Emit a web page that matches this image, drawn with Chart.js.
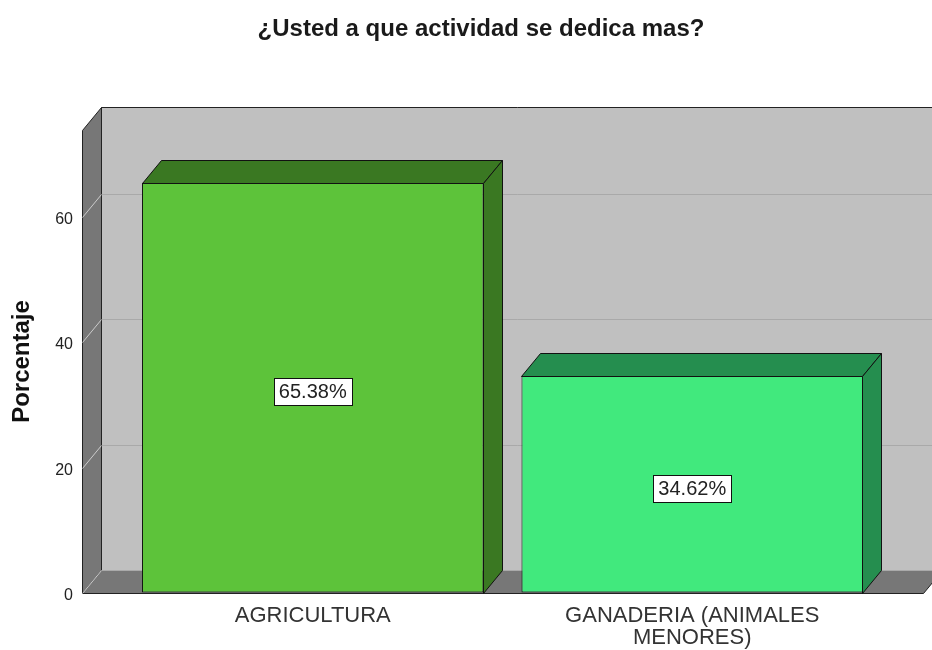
<!DOCTYPE html>
<html lang="es">
<head>
<meta charset="utf-8">
<title>¿Usted a que actividad se dedica mas?</title>
<script src="https://cdn.jsdelivr.net/npm/chart.js@4.4.1/dist/chart.umd.min.js"></script>
<style>
  html, body { margin: 0; padding: 0; background: #fff; }
  #wrap { width: 932px; height: 650px; position: relative; }
</style>
</head>
<body>
<div id="wrap"><canvas id="chart"></canvas></div>
<script>
// ---- data ----
const TITLE = '¿Usted a que actividad se dedica mas?';
const Y_TITLE = 'Porcentaje';
const CATEGORIES = ['AGRICULTURA', ['GANADERIA (ANIMALES', 'MENORES)']];
const PERCENTS = [65.38, 34.62];
const Y_TICKS = [0, 20, 40, 60];
const Y_MAX = 73.8;

// ---- look ----
const FRONT_COLORS = ['#5dc33a', '#41e97d'];
const SIDE_COLORS = ['#3a7822', '#258e4f'];
const FONT = '"Liberation Sans", Arial, sans-serif';
const DEPTH = { dx: 19, dy: -23 };   // 3d offset of the back plane
const WALL_PAD = 41;                 // floor/wall overhang past the category band

function line(ctx, x1, y1, x2, y2) {
  ctx.beginPath(); ctx.moveTo(x1, y1); ctx.lineTo(x2, y2); ctx.stroke();
}
function poly(ctx, pts, fill, stroke) {
  ctx.beginPath();
  pts.forEach((p, i) => i ? ctx.lineTo(p[0], p[1]) : ctx.moveTo(p[0], p[1]));
  ctx.closePath();
  if (fill) { ctx.fillStyle = fill; ctx.fill(); }
  if (stroke) { ctx.strokeStyle = stroke; ctx.stroke(); }
}

const box3d = {
  id: 'box3d',
  beforeDatasetsDraw(chart) {
    const { ctx, chartArea: a, scales: { y } } = chart;
    const { dx, dy } = DEPTH;
    const xL = Math.round(a.left - WALL_PAD) + 0.5, xR = Math.round(a.right + WALL_PAD) + 0.5;
    const yT = Math.round(a.top) + 0.5, yB = Math.round(a.bottom) + 0.5;
    ctx.save();
    ctx.lineWidth = 1;

    // back wall
    ctx.fillStyle = '#c0c0c0';
    ctx.fillRect(xL + dx, yT + dy, xR - xL + 10, yB - yT);
    ctx.strokeStyle = '#a9a9a9';
    Y_TICKS.filter(v => v > 0).forEach(v => {
      const py = Math.round(y.getPixelForValue(v) + dy) + 0.5;
      line(ctx, xL + dx, py, xR + dx + 10, py);
    });
    ctx.strokeStyle = '#222';
    line(ctx, xL + dx, yT + dy, xR + dx + 10, yT + dy);

    // left wall
    poly(ctx, [[xL, yB], [xL, yT], [xL + dx, yT + dy], [xL + dx, yB + dy]], '#777777', '#222');

    // floor
    poly(ctx, [[xL, yB], [xR, yB], [xR + dx, yB + dy], [xL + dx, yB + dy]], '#777777', null);
    ctx.strokeStyle = '#aaaaaa';
    line(ctx, xL + dx, yB + dy, xR + dx + 10, yB + dy);
    ctx.strokeStyle = '#222';
    line(ctx, xL, yB, xR, yB);
    line(ctx, xR, yB, xR + dx, yB + dy);
    line(ctx, xL + dx, yT + dy, xL + dx, yB + dy);

    // tick diagonals on the left wall
    ctx.strokeStyle = '#cccccc';
    Y_TICKS.forEach(v => {
      const py = Math.round(y.getPixelForValue(v)) + 0.5;
      line(ctx, xL, py, xL + dx, py + dy);
    });
    ctx.restore();
  },
  afterDatasetsDraw(chart) {
    const { ctx } = chart;
    const { dx, dy } = DEPTH;
    const meta = chart.getDatasetMeta(0);
    ctx.save();
    ctx.lineWidth = 1;
    meta.data.forEach((bar, i) => {
      const { x, y, base, width } = bar.getProps(['x', 'y', 'base', 'width'], true);
      const l = Math.round(x - width / 2) + 0.5, r = Math.round(x + width / 2) - 0.5;
      const t = Math.round(y) + 0.5, b = Math.round(base) + 0.5;
      poly(ctx, [[l, t], [r, t], [r + dx, t + dy], [l + dx, t + dy]], SIDE_COLORS[i], '#111');
      poly(ctx, [[r, t], [r + dx, t + dy], [r + dx, b + dy], [r, b]], SIDE_COLORS[i], '#111');

      // value label
      const txt = PERCENTS[i].toFixed(2) + '%';
      ctx.font = '20px ' + FONT;
      const tw = ctx.measureText(txt).width;
      const cx = x, cy = (y + base) / 2 + 4;
      const bw = Math.round(tw + 10), bh = 27;
      const bx = Math.round(cx - bw / 2) + 0.5, by = Math.round(cy - bh / 2) + 0.5;
      ctx.fillStyle = '#fff';
      ctx.fillRect(bx, by, bw, bh);
      ctx.strokeStyle = '#111';
      ctx.strokeRect(bx, by, bw, bh);
      ctx.fillStyle = '#222';
      ctx.textAlign = 'center';
      ctx.textBaseline = 'middle';
      ctx.fillText(txt, cx, cy + 1);
    });
    ctx.restore();
  },
  afterDraw(chart) {
    const { ctx } = chart;
    ctx.save();
    ctx.font = 'bold 24px ' + FONT;
    ctx.fillStyle = '#1a1a1a';
    ctx.textAlign = 'center';
    ctx.textBaseline = 'middle';
    ctx.fillText(TITLE, 481, 29);
    ctx.restore();
  }
};

new Chart(document.getElementById('chart'), {
  type: 'bar',
  data: {
    labels: CATEGORIES,
    datasets: [{
      data: PERCENTS,
      backgroundColor: FRONT_COLORS,
      borderColor: '#111',
      borderWidth: 1,
      borderSkipped: false,
      barPercentage: 0.9,
      categoryPercentage: 1.0
    }]
  },
  options: {
    responsive: true,
    maintainAspectRatio: false,
    animation: false,
    layout: { padding: { left: 6, right: 50, top: 130, bottom: 0 } },
    plugins: { legend: { display: false }, tooltip: { enabled: false } },
    scales: {
      x: {
        grid: { display: false },
        border: { display: false },
        ticks: {
          color: '#333',
          font: { family: FONT, size: 22, lineHeight: '22px' },
          padding: 4,
          maxRotation: 0,
          autoSkip: false
        },
        afterFit: s => { s.height = 57; }
      },
      y: {
        min: 0,
        max: Y_MAX,
        // invisible tick marks keep the labels clear of the left wall
        grid: { display: true, color: 'transparent', drawTicks: true, tickLength: 40 },
        border: { display: false },
        afterBuildTicks: s => { s.ticks = Y_TICKS.map(v => ({ value: v })); },
        ticks: {
          color: '#222',
          font: { family: FONT, size: 16 },
          padding: 10,
          labelOffset: 3
        },
        title: {
          display: true,
          text: Y_TITLE,
          color: '#111',
          font: { family: FONT, size: 24, weight: 'bold' },
          padding: { top: 2, bottom: 0 }
        },
        afterFit: s => { s.width = 117; }
      }
    }
  },
  plugins: [box3d]
});
</script>
</body>
</html>
